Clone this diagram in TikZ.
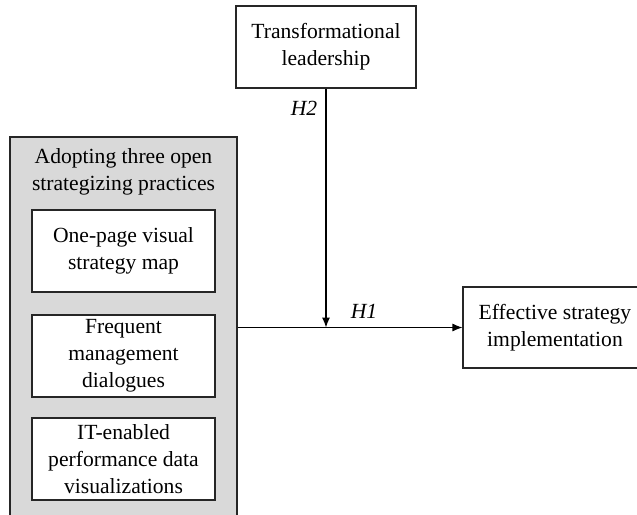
\documentclass[tikz,border=0pt]{standalone}
\usepackage{fontspec}
\setmainfont{Liberation Serif}
\usetikzlibrary{arrows.meta}
\begin{document}
\begin{tikzpicture}[x=1pt,y=-1pt,
  box/.style={draw=black!85, line width=1.1pt, fill=white, align=center, inner sep=0pt,
    font=\fontsize{21.6}{27}\selectfont},
  greybox/.style={draw=black!85, line width=1.1pt, fill=black!15},
  hyp/.style={font=\fontsize{21.6}{27}\selectfont\itshape, inner sep=0pt},
  conn/.style={line width=1.1pt, -{Latex[length=10pt,width=8pt]}}]
\useasboundingbox (0,0) rectangle (637,514);
\clip (0,0) rectangle (637,514);
\fill[white] (0,0) rectangle (637,514);
\node[box, minimum width=180pt, minimum height=82pt] (top) at (326,47) {Transformational\\leadership};
\node[greybox, minimum width=227pt, minimum height=400pt, inner sep=0pt] (grey) at (123.5,337) {};
\node[align=center, inner sep=0pt, font=\fontsize{21.6}{27}\selectfont] (greytitle) at (123.5,172) {Adopting three open\\strategizing practices};
\node[box, minimum width=183pt, minimum height=82pt] (p1) at (123.5,251) {One-page visual\\strategy map};
\node[box, minimum width=183pt, minimum height=82pt] (p2) at (123.5,356) {Frequent\\management\\dialogues};
\node[box, minimum width=183pt, minimum height=82pt] (p3) at (123.5,459) {IT-enabled\\performance data\\visualizations};
\node[box, minimum width=184pt, minimum height=81pt] (eff) at (555,327.5) {Effective strategy\\implementation};
\coordinate (j) at (top.south |- eff.west);
\draw[conn] (eff.west -| grey.east) -- (eff.west);
\draw[conn] (top.south) -- (j);
\node[hyp] (h2) at (304,108) {H2};
\node[hyp] (h1) at (364,311) {H1};
\end{tikzpicture}
\end{document}
